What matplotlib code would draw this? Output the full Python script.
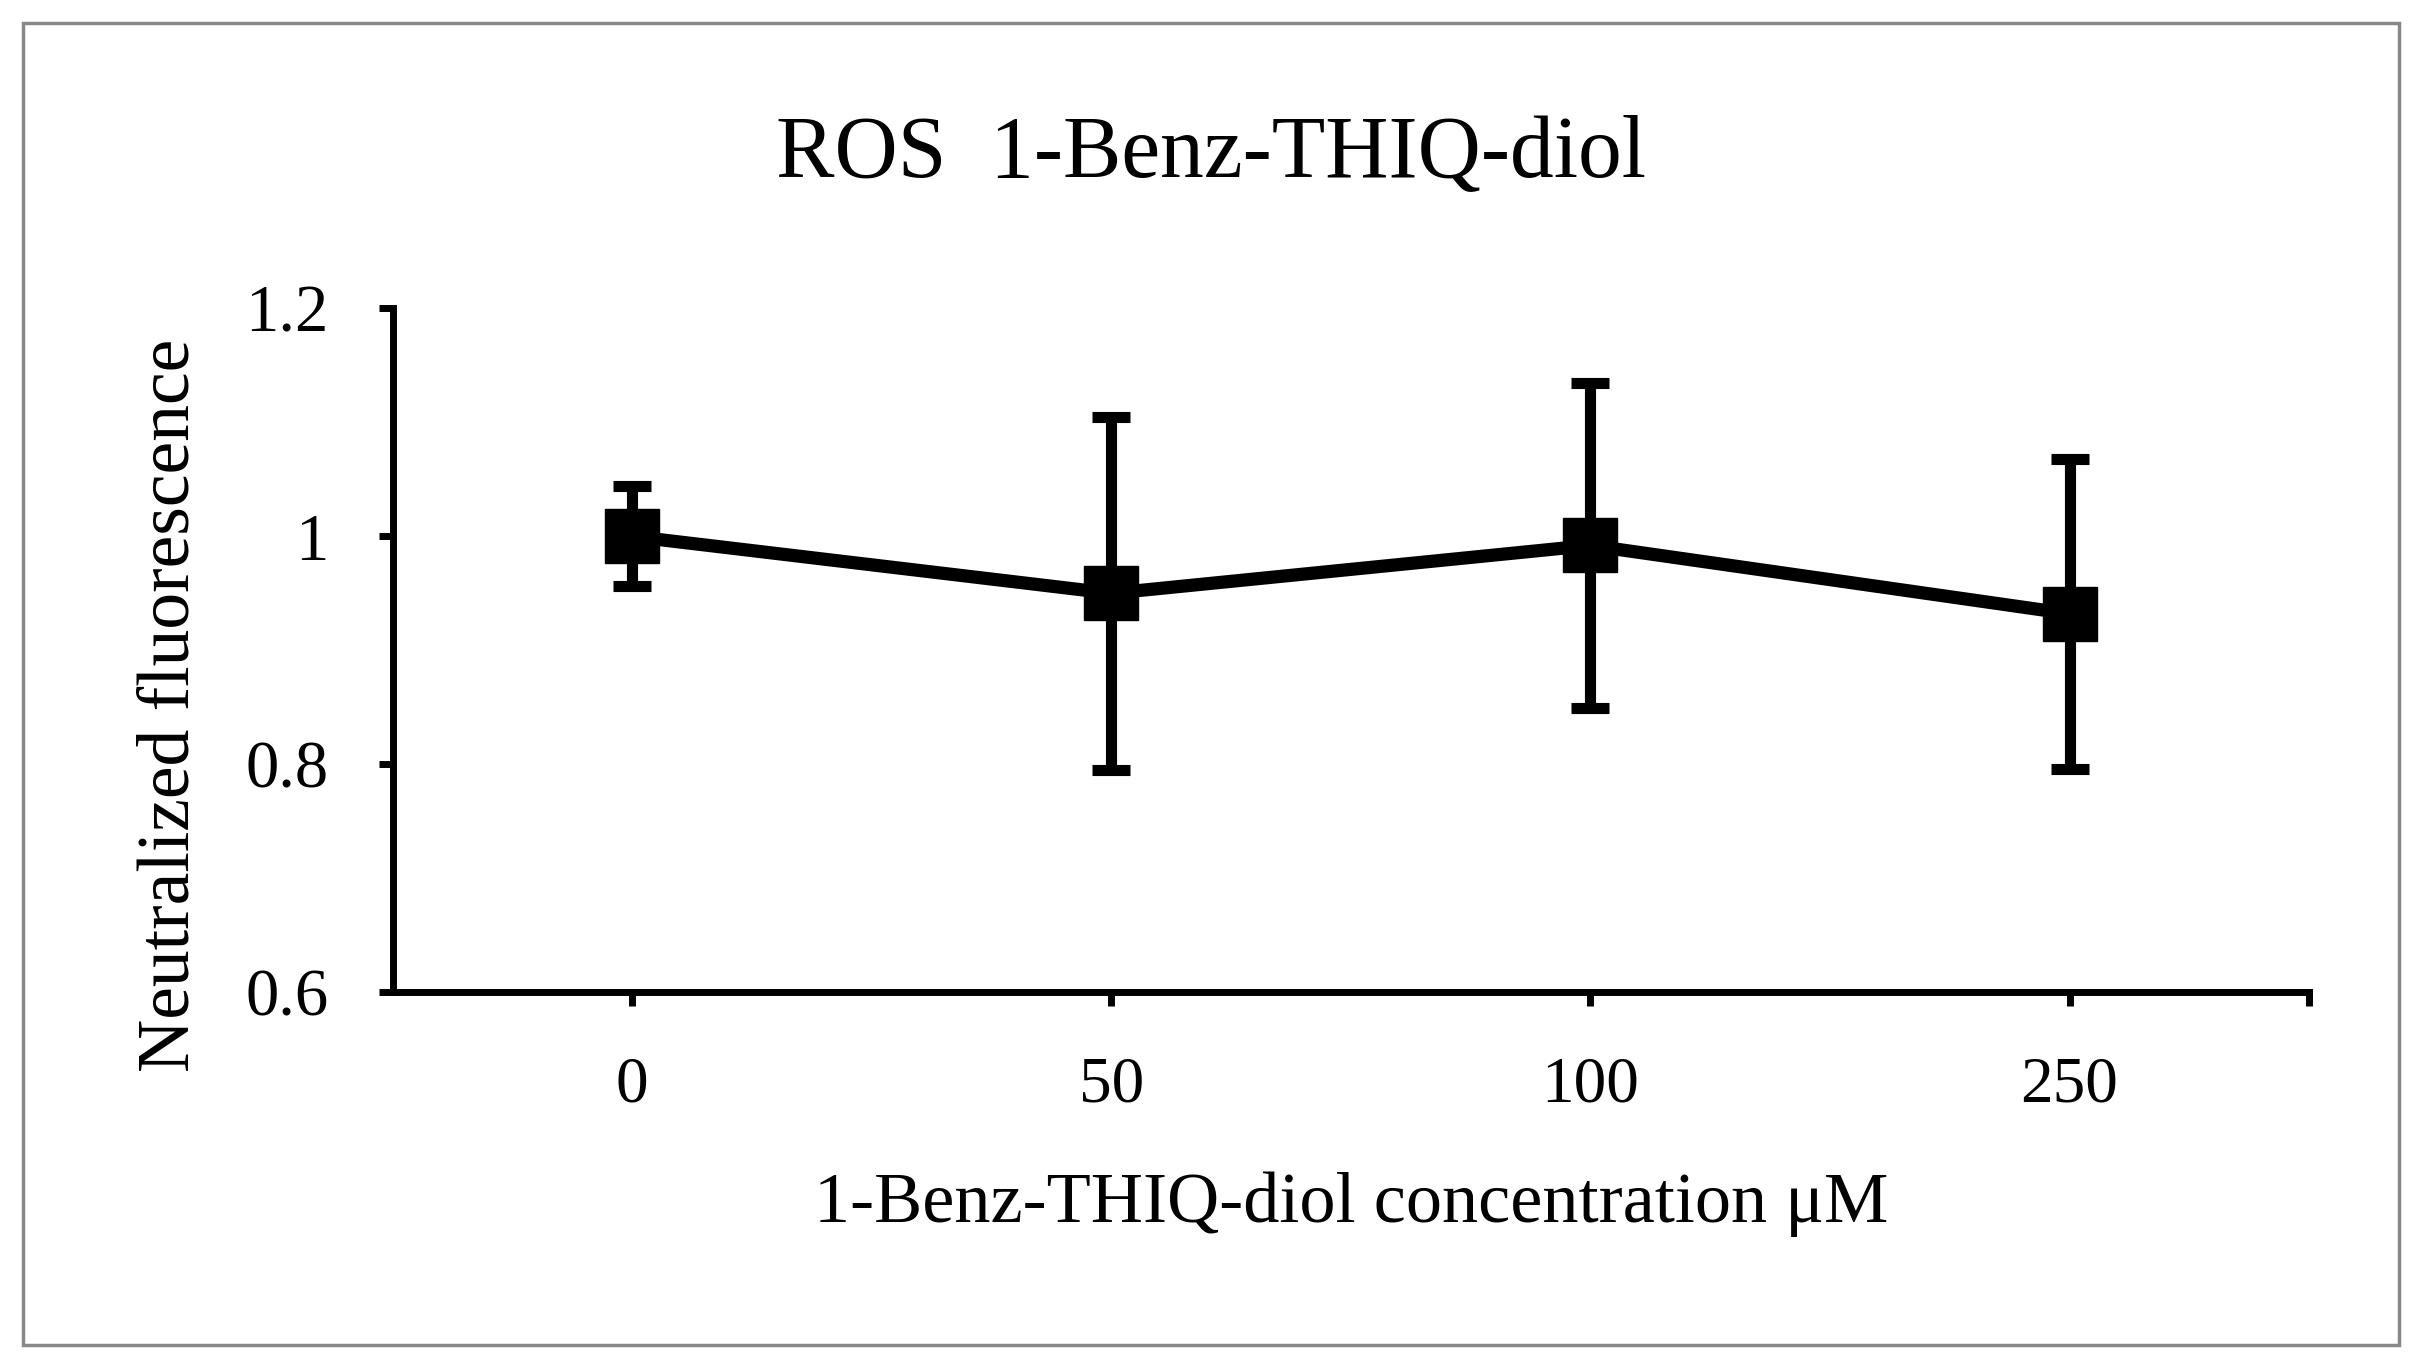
import matplotlib
matplotlib.use('Agg')
import matplotlib.pyplot as plt
from matplotlib.patches import Rectangle

# data
concentrations = ['0', '50', '100', '250']
fluorescence = [1.0, 0.95, 0.992, 0.932]
errors = [0.044, 0.155, 0.143, 0.136]

plt.rcParams['font.family'] = ['Liberation Serif', 'DejaVu Serif']

fig = plt.figure(figsize=(24.23, 13.71), dpi=100)
ax = fig.add_axes([0.162, 0.2764, 0.791, 0.4986])

xs = list(range(len(concentrations)))
ax.errorbar(xs, fluorescence, yerr=errors, color='black', linewidth=9.5,
            marker='s', markersize=39, elinewidth=8, capsize=14, capthick=8)

ax.set_xlim(-0.5, 3.5)
ax.set_ylim(0.6, 1.2)
ax.set_yticks([0.6, 0.8, 1.0, 1.2])
ax.set_yticklabels(['0.6', '0.8', '1', '1.2'])
ax.set_xticks(xs + [3.5])
ax.set_xticklabels(concentrations + [''])

for side in ['top', 'right']:
    ax.spines[side].set_visible(False)
for side in ['left', 'bottom']:
    ax.spines[side].set_linewidth(5)

ax.tick_params(axis='both', width=5, length=10, direction='out')
ax.tick_params(axis='x', pad=36, labelsize=47)
ax.tick_params(axis='y', pad=36, labelsize=48)

ax.set_xlabel('1-Benz-THIQ-diol concentration \u03bcM', fontsize=52, labelpad=40)
ax.set_ylabel('Neutralized fluorescence', fontsize=53)
ax.yaxis.set_label_coords(-0.098, 0.42)

fig.text(0.4997, 0.887, 'ROS  1-Benz-THIQ-diol', fontsize=63, ha='center', va='center')

fig.patches.append(Rectangle((0.0096, 0.019), 0.9804, 0.964, transform=fig.transFigure,
                             fill=False, edgecolor='#888888', linewidth=2.5))

fig.savefig('out.png', dpi=100)
